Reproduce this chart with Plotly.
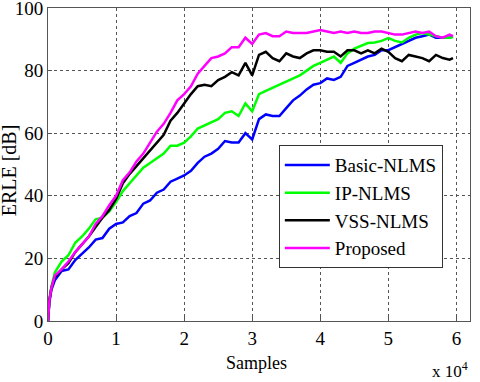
import plotly.graph_objects as go

# Data (samples in units of 1e4, ERLE in dB)
x = [0, 0.02, 0.05, 0.1, 0.2, 0.3, 0.4, 0.5, 0.6, 0.7, 0.8, 0.9,
     1.0, 1.1, 1.2, 1.3, 1.4, 1.5, 1.6, 1.7, 1.8, 1.9,
     2.0, 2.1, 2.2, 2.3, 2.4, 2.5, 2.6, 2.7, 2.8, 2.9,
     3.0, 3.1, 3.2, 3.3, 3.4, 3.5, 3.6, 3.7, 3.8, 3.9,
     4.0, 4.1, 4.2, 4.3, 4.4, 4.5, 4.6, 4.7, 4.8, 4.9,
     5.0, 5.1, 5.2, 5.3, 5.4, 5.5, 5.6, 5.7, 5.8, 5.9, 5.95]

basic_nlms = [0, 6, 10, 13, 16, 16.5, 19.5, 21.5, 23.5, 26, 26.5, 29.5,
              31, 31.5, 33.5, 34.5, 37.5, 38.5, 41, 42, 44.5, 45.5,
              46.5, 48, 50.5, 52.5, 53.5, 55, 57.5, 57, 57, 60,
              58, 64.5, 66, 65.5, 65.5, 68, 70.5, 72, 74, 75.5,
              76, 77.5, 77, 78, 81.5, 82.5, 83.5, 84.5, 85, 86.5,
              86.5, 87.5, 88.5, 89.5, 90.5, 91, 91.5, 90.5, 90.5, 90.5, 91]

ip_nlms = [0, 7, 11, 15.5, 19, 21, 25, 27, 29.5, 32.5, 33, 35,
           38, 41.5, 44, 46.5, 49, 50.5, 52, 53.5, 56, 56,
           57, 59, 61.5, 62.5, 63.5, 64.5, 66.5, 67, 65.5, 69.5,
           67, 72.5, 73.5, 74.5, 75.5, 76.5, 77.5, 78.5, 80, 81.5,
           82.5, 83.5, 84.5, 82.5, 85.5, 87, 88, 88.8, 89, 89.5,
           90.4, 89.5, 89, 90.5, 91.5, 92, 91.5, 91, 90.5, 90.5, 90.7]

vss_nlms = [0, 6.5, 10.5, 14, 16.5, 18.5, 22, 24.5, 27, 30, 33, 35.5,
            39, 44, 47, 49.5, 52, 54.5, 57, 59.5, 64, 66.5,
            69.5, 72.5, 75, 75.5, 75, 77, 78, 79.5, 78.5, 82.5,
            78.5, 85, 86, 84, 83, 85.5, 84.5, 84, 85.5, 86.5,
            86.5, 86, 86, 84.5, 86.5, 86.5, 85.5, 86.5, 85.5, 87,
            86, 84, 83, 85, 84.5, 84, 83, 85, 84, 83.5, 84]

proposed = [0, 6.5, 10.5, 14.5, 16.5, 19, 22, 24.5, 27, 31, 33.5, 37,
            40, 45, 47.5, 51, 53.5, 57, 60.5, 63, 66.5, 70.5,
            72.5, 75, 79, 81.5, 84, 84.5, 85.5, 87.5, 87.5, 90.5,
            88.5, 91.5, 92, 91, 91, 92.5, 92, 92, 92, 92.5,
            93, 92.5, 92, 92.5, 92, 92.5, 92, 92, 92.5, 92.5,
            92, 91.5, 91.5, 92, 92.5, 92, 92.5, 91, 90.5, 91.5, 91]

names = ["Basic-NLMS", "IP-NLMS", "VSS-NLMS", "Proposed"]
colors = ["#0000ff", "#00ff00", "#000000", "#ff00ff"]
series = [basic_nlms, ip_nlms, vss_nlms, proposed]

fig = go.Figure()
for name, color, y in zip(names, colors, series):
    fig.add_trace(go.Scatter(x=x, y=y, mode="lines", name=name,
                             line=dict(color=color, width=2.5)))

axis_common = dict(showline=True, linecolor="#555555", linewidth=1, mirror=True,
                   showgrid=True, gridcolor="#555555", griddash="dot", gridwidth=1,
                   zeroline=False, ticks="inside", ticklen=4, tickcolor="#555555",
                   tickfont=dict(size=19, color="black"),
                   automargin=False, ticklabeloverflow="allow")

fig.update_layout(
    width=480, height=382,
    margin=dict(l=48, r=10, t=8, b=61),
    paper_bgcolor="white", plot_bgcolor="white",
    font=dict(family="Liberation Serif", size=17, color="black"),
    xaxis=dict(range=[0, 6.2], tickvals=[0, 1, 2, 3, 4, 5, 6], **axis_common),
    yaxis=dict(range=[0, 100], tickvals=[0, 20, 40, 60, 80, 100], **axis_common),
    legend=dict(x=0.547, y=0.562, xanchor="left", yanchor="top",
                bordercolor="#333333", borderwidth=1, bgcolor="white",
                font=dict(size=19), tracegroupgap=0, itemwidth=45),
    showlegend=True,
)

# axis titles as annotations for exact placement
fig.add_annotation(text="Samples", xref="paper", yref="paper",
                   x=0.495, y=-0.134, xanchor="center", yanchor="middle",
                   showarrow=False, font=dict(size=18))
fig.add_annotation(text="ERLE [dB]", xref="paper", yref="paper",
                   x=-0.092, y=0.482, xanchor="center", yanchor="middle",
                   textangle=-90, showarrow=False, font=dict(size=20))
fig.add_annotation(text="x 10<sup>4</sup>", xref="paper", yref="paper",
                   x=1.0, y=-0.115, xanchor="right", yanchor="top",
                   showarrow=False, font=dict(size=17))

# remove the default page margin so the figure sits at the window's corner
fig.write_html("out.html", config={"displayModeBar": False},
               post_script="document.body.style.margin='0';")
